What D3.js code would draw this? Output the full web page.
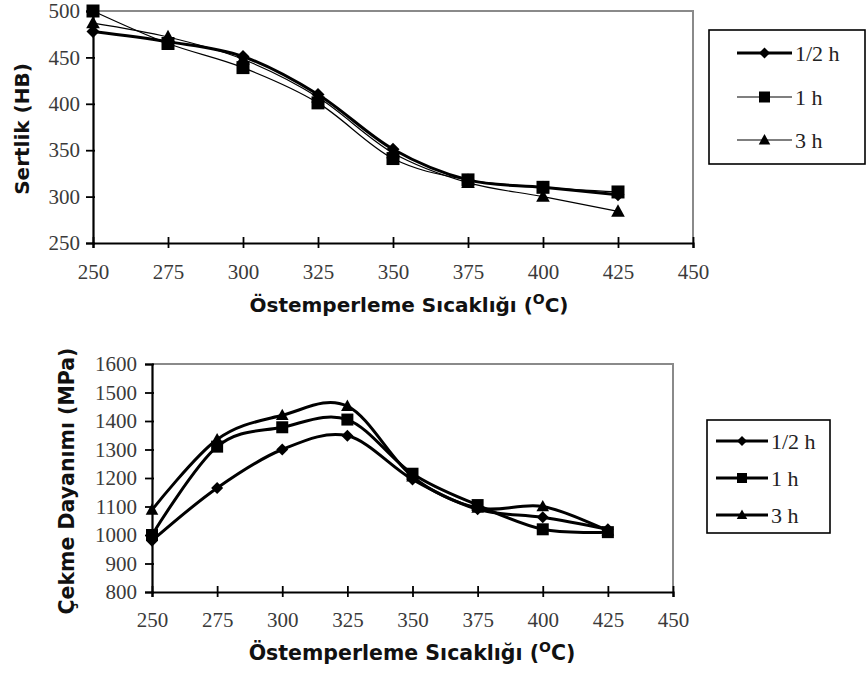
<!DOCTYPE html>
<html>
<head>
<meta charset="utf-8">
<script src="https://cdn.jsdelivr.net/npm/d3@7"></script>
<style>
  body { margin: 0; background: #fff; }
  svg { display: block; }
</style>
</head>
<body>
<svg width="866" height="675"></svg>
<script>
///////////////////////////////////////////////////
// Data
///////////////////////////////////////////////////

//  austempering temperatures (x)
const temps = [250, 275, 300, 325, 350, 375, 400, 425];
const seriesLabels = ["1/2 h", "1 h", "3 h"];

//  hardness (HB)
const hardHalf  = [478, 467, 451, 410, 351, 318, 310, 302];
const hardOne   = [500, 465, 439, 401, 341, 318, 310, 305];
const hardThree = [487, 472, 448, 407, 347, 315, 300, 284];

//  tensile strength (MPa)
const tensHalf  = [980, 1165, 1300, 1348, 1195, 1090, 1062, 1020];
const tensOne   = [1000, 1310, 1378, 1405, 1215, 1105, 1020, 1010];
const tensThree = [1088, 1335, 1420, 1452, 1205, 1095, 1100, 1015];

//  tick values
const xTicks = [250, 275, 300, 325, 350, 375, 400, 425, 450];
const hardTicks = [250, 300, 350, 400, 450, 500];
const tensTicks = [800, 900, 1000, 1100, 1200, 1300, 1400, 1500, 1600];

const SERIF = "Liberation Serif, Times New Roman, serif";
const SANS = "DejaVu Sans, Verdana, sans-serif";

const SVG = d3.select("svg");

///////////////////////////////////////////////////
// Marker shapes
///////////////////////////////////////////////////

function markerPath(type, r) {
  if (type === "diamond") return "M0," + (-r) + "L" + r + ",0L0," + r + "L" + (-r) + ",0Z";
  if (type === "square") return "M" + (-r) + "," + (-r) + "h" + (2 * r) + "v" + (2 * r) + "h" + (-2 * r) + "Z";
  return "M0," + (-r * 1.1) + "L" + (r * 1.05) + "," + (r * 0.8) + "L" + (-r * 1.05) + "," + (r * 0.8) + "Z";
}
const shapes = ["diamond", "square", "triangle"];

///////////////////////////////////////////////////
// Panel drawing
///////////////////////////////////////////////////

function drawPanel(cfg) {
  let x = d3.scaleLinear().domain([250, 450]).range([cfg.left, cfg.right]);
  let y = d3.scaleLinear().domain(cfg.yDomain).range([cfg.bottom, cfg.top]);
  let g = SVG.append("g");

  //  gray frame (top + right)
  g.append("path")
    .attr("d", "M" + cfg.left + "," + cfg.top + "H" + cfg.right + "V" + cfg.bottom)
    .attr("fill", "none")
    .attr("stroke", "#8a8a8a")
    .attr("stroke-width", 2);

  //  x axis
  let xAxis = g.append("g")
    .attr("transform", "translate(0," + cfg.bottom + ")")
    .call(d3.axisBottom(x).tickValues(xTicks).tickSize(5).tickPadding(cfg.xPad).tickFormat(d3.format("d")));
  xAxis.select(".domain").attr("stroke", "#000").attr("stroke-width", 2.2);
  xAxis.selectAll(".tick line").attr("y1", -6).attr("stroke-width", 1.8);

  //  y axis
  let yAxis = g.append("g")
    .attr("transform", "translate(" + cfg.left + ",0)")
    .call(d3.axisLeft(y).tickValues(cfg.yTicks).tickSize(7).tickPadding(cfg.yPad).tickFormat(d3.format("d")));
  yAxis.select(".domain").attr("stroke", "#000").attr("stroke-width", 2.2);
  yAxis.selectAll(".tick line").attr("x2", -7).attr("x1", 2).attr("stroke-width", 1.8);

  [xAxis, yAxis].forEach(function(a) {
    a.attr("font-family", SERIF).attr("font-size", cfg.tickFont);
    a.selectAll(".tick text").attr("fill", "#3a3a3a");
  });

  //  series lines + markers
  cfg.series.forEach(function(vals, i) {
    let pts = temps.map(function(t, k) { return [x(t), y(vals[k])]; });
    g.append("path")
      .attr("d", d3.line().curve(d3.curveCatmullRom.alpha(0))(pts))
      .attr("fill", "none")
      .attr("stroke", "#000")
      .attr("stroke-width", cfg.widths[i]);
    g.selectAll(".m" + i)
      .data(pts)
      .enter().append("path")
      .attr("transform", function(d) { return "translate(" + d[0] + "," + d[1] + ")"; })
      .attr("d", markerPath(shapes[i], cfg.markerR))
      .attr("fill", "#000");
  });

  //  axis titles
  g.append("text")
    .attr("font-family", SANS).attr("font-weight", "bold").attr("font-size", cfg.yTitleFont)
    .attr("fill", "#111")
    .attr("transform", "translate(" + cfg.yTitleX + "," + cfg.yTitleY + ") rotate(-90)")
    .attr("text-anchor", "middle")
    .attr("dy", "0.35em")
    .text(cfg.yTitle);

  let xt = g.append("text")
    .attr("font-family", SANS).attr("font-weight", "bold").attr("font-size", cfg.xTitleFont)
    .attr("fill", "#111")
    .attr("x", cfg.xTitleX)
    .attr("y", cfg.xTitleY)
    .attr("text-anchor", "middle");
  xt.append("tspan").text("Östemperleme Sıcaklığı (");
  xt.append("tspan").attr("dy", -8).attr("font-size", "14px").text("O");
  xt.append("tspan").attr("dy", 8).text("C)");

  //  legend
  let lg = g.append("g");
  lg.append("rect")
    .attr("x", cfg.legend.x).attr("y", cfg.legend.y)
    .attr("width", cfg.legend.w).attr("height", cfg.legend.h)
    .attr("fill", "#fff").attr("stroke", "#000").attr("stroke-width", 1.6);
  seriesLabels.forEach(function(lab, i) {
    let ly = cfg.legend.rows[i];
    lg.append("line")
      .attr("x1", cfg.legend.lx1).attr("x2", cfg.legend.lx2)
      .attr("y1", ly).attr("y2", ly)
      .attr("stroke", "#000").attr("stroke-width", cfg.widths[i]);
    lg.append("path")
      .attr("transform", "translate(" + ((cfg.legend.lx1 + cfg.legend.lx2) / 2) + "," + ly + ")")
      .attr("d", markerPath(shapes[i], cfg.markerR - 1))
      .attr("fill", "#000");
    lg.append("text")
      .attr("font-family", SERIF).attr("font-size", cfg.legendFont)
      .attr("fill", "#222")
      .attr("x", cfg.legend.lx2 + 3).attr("y", ly)
      .attr("dy", "0.35em")
      .text(lab);
  });
}

///////////////////////////////////////////////////
// Hardness panel
///////////////////////////////////////////////////

drawPanel({
  left: 93, right: 693, top: 11, bottom: 243,
  yDomain: [250, 500], yTicks: hardTicks, xPad: 16, yPad: 6,
  series: [hardHalf, hardOne, hardThree],
  widths: [3, 1.2, 1.2],
  markerR: 6.5,
  tickFont: "21px", xTitleFont: "20px", yTitleFont: "20px", legendFont: "22px",
  yTitle: "Sertlik (HB)", yTitleX: 22, yTitleY: 129,
  xTitleX: 409, xTitleY: 312,
  legend: { x: 709, y: 30, w: 156, h: 134, rows: [53, 97, 140], lx1: 737, lx2: 792 }
});

///////////////////////////////////////////////////
// Tensile strength panel
///////////////////////////////////////////////////

drawPanel({
  left: 152, right: 673, top: 364, bottom: 592,
  yDomain: [800, 1600], yTicks: tensTicks, xPad: 15, yPad: 8,
  series: [tensHalf, tensOne, tensThree],
  widths: [3, 3, 3],
  markerR: 6,
  tickFont: "21px", xTitleFont: "20.5px", yTitleFont: "20.5px", legendFont: "22px",
  yTitle: "Çekme Dayanımı (MPa)", yTitleX: 67, yTitleY: 481,
  xTitleX: 412, xTitleY: 660,
  legend: { x: 707, y: 420, w: 123, h: 113, rows: [441, 478, 515], lx1: 716, lx2: 768 }
});
</script>
</body>
</html>
